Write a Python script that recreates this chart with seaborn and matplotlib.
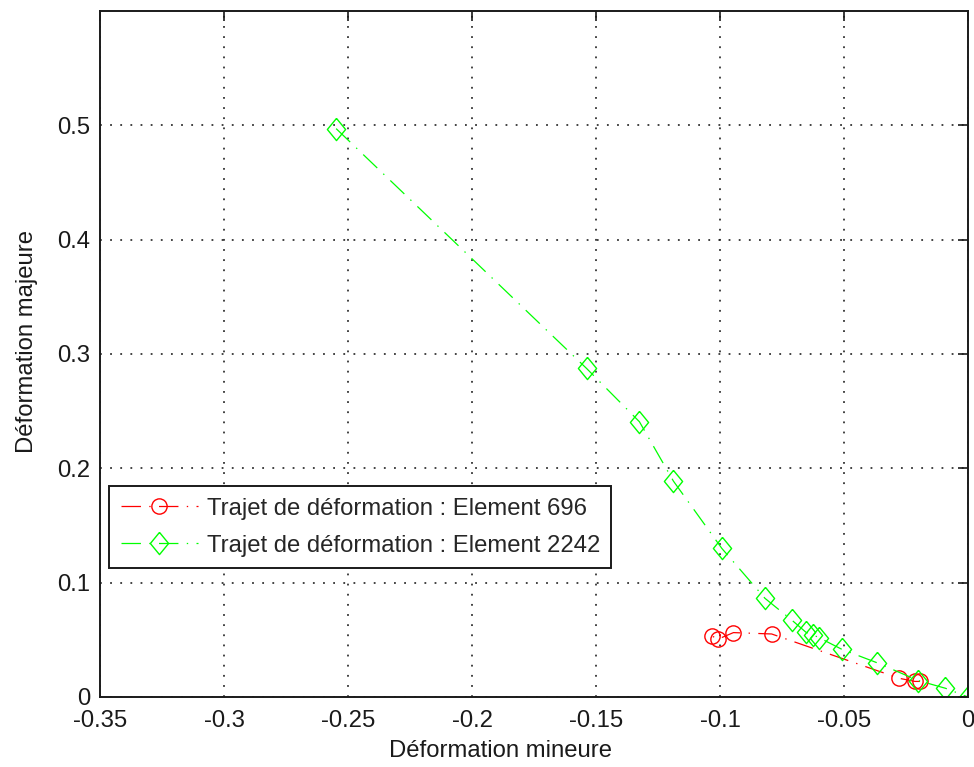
import matplotlib
matplotlib.use("Agg")
import matplotlib.pyplot as plt
import seaborn as sns
import pandas as pd

# Strain paths (minor strain, major strain) for two mesh elements
elem696_minor = [-0.0194, -0.0214, -0.0277, -0.0792, -0.0946, -0.1007, -0.1033]
elem696_major = [0.0136, 0.0136, 0.0163, 0.0551, 0.0563, 0.0507, 0.0533]

elem2242_minor = [-0.2548, -0.1538, -0.1325, -0.1188, -0.0993, -0.0819, -0.0711,
                  -0.0653, -0.0627, -0.0602, -0.0509, -0.0368, -0.0200, -0.0091, 0.0]
elem2242_major = [0.4971, 0.2873, 0.2407, 0.1888, 0.1300, 0.0863, 0.0673,
                  0.0565, 0.0545, 0.0520, 0.0417, 0.0300, 0.0143, 0.0076, 0.0]

label_696 = "Trajet de déformation : Element 696"
label_2242 = "Trajet de déformation : Element 2242"

x_ticks = [-0.35, -0.3, -0.25, -0.2, -0.15, -0.1, -0.05, 0.0]
x_tick_labels = ["-0.35", "-0.3", "-0.25", "-0.2", "-0.15", "-0.1", "-0.05", "0"]
y_ticks = [0.0, 0.1, 0.2, 0.3, 0.4, 0.5]
y_tick_labels = ["0", "0.1", "0.2", "0.3", "0.4", "0.5"]

sns.set_style("white")
plt.rcParams["font.family"] = ["Liberation Sans", "DejaVu Sans"]
plt.rcParams["lines.scale_dashes"] = False

FS = 17.2

df696 = pd.DataFrame({"minor": elem696_minor, "major": elem696_major})
df2242 = pd.DataFrame({"minor": elem2242_minor, "major": elem2242_major})

fig = plt.figure(figsize=(9.74, 7.67), dpi=100)
ax = fig.add_axes([0.1027, 0.0913, 0.8912, 0.8944])

dashdot = (0, (14, 6, 1, 6))
diamond = [(0, 1), (0.82, 0), (0, -1), (-0.82, 0), (0, 1)]

sns.lineplot(data=df696, x="minor", y="major", sort=False, estimator=None,
             ax=ax, color="#ff0000", linestyle=dashdot, linewidth=0.9,
             marker="o", markersize=11, markerfacecolor="none",
             markeredgecolor="#ff0000", markeredgewidth=1.0, label=label_696)
sns.lineplot(data=df2242, x="minor", y="major", sort=False, estimator=None,
             ax=ax, color="#00ff00", linestyle=dashdot, linewidth=0.9,
             marker=diamond, markersize=16, markerfacecolor="none",
             markeredgecolor="#00ff00", markeredgewidth=1.0, label=label_2242)

ax.set_xlim(-0.35, 0.0)
ax.set_ylim(0.0, 0.6)
ax.set_xticks(x_ticks)
ax.set_xticklabels(x_tick_labels)
ax.set_yticks(y_ticks)
ax.set_yticklabels(y_tick_labels)

ax.grid(True, color="#222222", linestyle=(0, (1.3, 6)), linewidth=1.2)
ax.set_axisbelow(True)

for side in ["left", "right", "top", "bottom"]:
    ax.spines[side].set_visible(True)
    ax.spines[side].set_color("#1a1a1a")
    ax.spines[side].set_linewidth(1.4)

ax.tick_params(axis="both", which="major", direction="in", length=7, width=1.2,
               colors="#1a1a1a", labelsize=FS, top=True, right=True)
ax.tick_params(axis="x", pad=9.5)
ax.tick_params(axis="y", pad=7)

ax.set_xlabel("Déformation mineure", fontsize=FS, color="#1a1a1a")
ax.set_ylabel("Déformation majeure", fontsize=FS, color="#1a1a1a")
ax.xaxis.set_label_coords(0.4608, -0.063)
ax.yaxis.set_label_coords(-0.072, 0.5175)

leg = ax.legend(loc="lower left", bbox_to_anchor=(0.0104, 0.188),
                borderaxespad=0, fontsize=FS, frameon=True, fancybox=False,
                handlelength=3.25, handletextpad=0.35, labelspacing=0.62,
                borderpad=0.48, edgecolor="#1a1a1a", framealpha=1)
leg.get_frame().set_linewidth(1.4)

fig.savefig("out.png", dpi=100, facecolor="white")
